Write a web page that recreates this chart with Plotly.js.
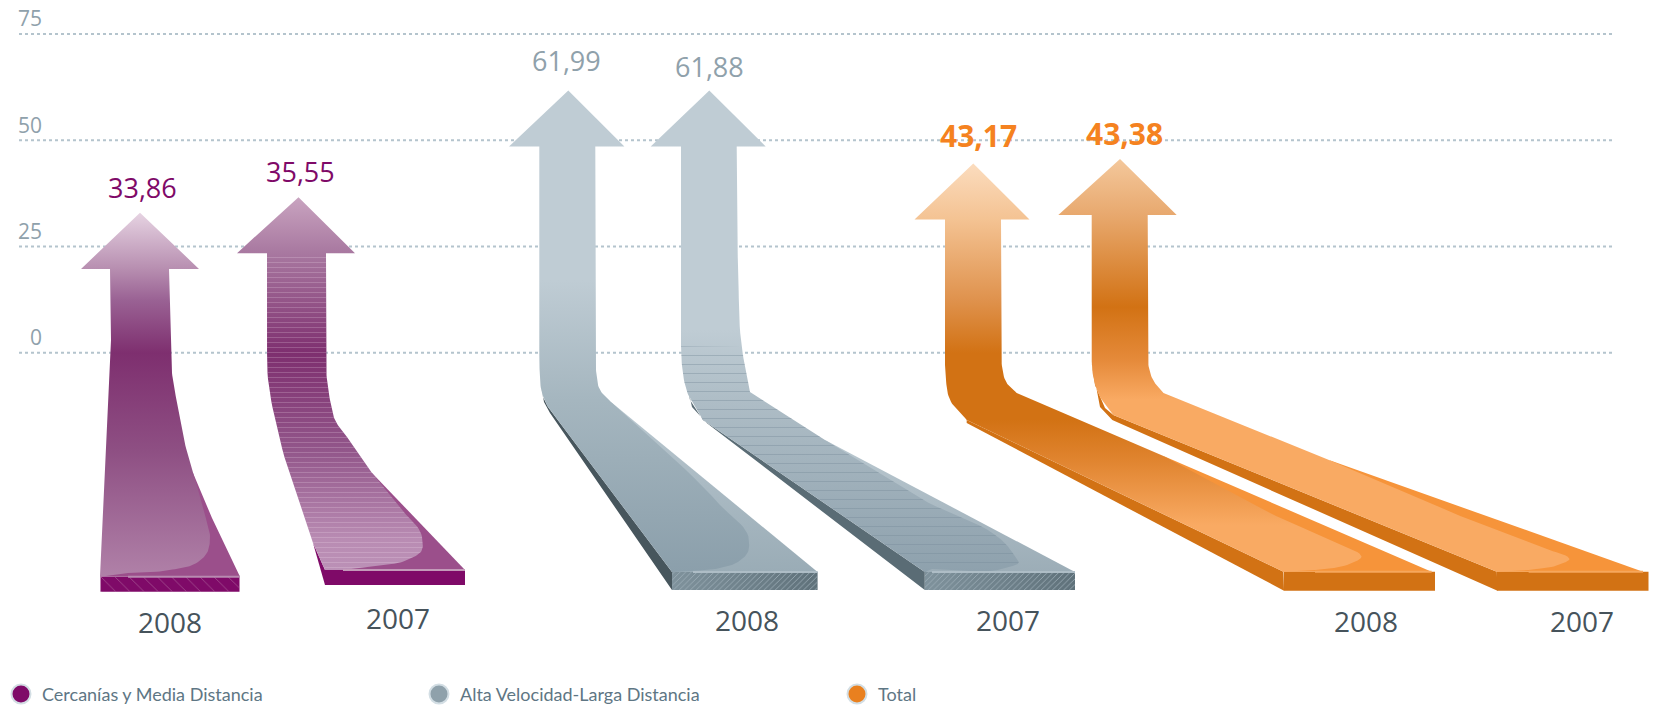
<!DOCTYPE html>
<html>
<head>
<meta charset="utf-8">
<script src="https://cdn.plot.ly/plotly-3.0.1.min.js"></script>
<style>html,body{margin:0;padding:0;background:#fff}#chart{width:1653px;height:707px}</style>
</head>
<body>
<div id="chart"></div>
<script>
// ---- Data ----
const categories = ['Cercanías y Media Distancia', 'Alta Velocidad-Larga Distancia', 'Total'];
const years = ['2008', '2007', '2008', '2007', '2008', '2007'];
const values = [33.86, 35.55, 61.99, 61.88, 43.17, 43.38];
const arrowTips = [32.9, 36.6, 61.7, 61.7, 44.5, 45.6];   // level the tip of each arrow reaches on the drawing
const yTicks = [0, 25, 50, 75];
const seriesColors = ['#7f0a68', '#8fa1ab', '#e9801f'];
const labelColors = ['#7f0a68', '#8fa1ab', '#f58220'];

// ---- Layout constants ----
const W = 1653, H = 707, ZERO = 352.7, UNIT = 4.25, GRID_X = [19, 1613];
const toY = p => (ZERO - p) / UNIT;
const toPx = v => ZERO - v * UNIT;

// ---- Ribbon geometry (decorative tail of each arrow, below the axis) ----
const arrows = [
 { cx:140, hc:140, head:59, sl:110, sr:169,
   right:[[170.7,340],[172,373],[177,403],[184,440],[193,473]], flatEdge:[[212,518]], end:[240,576.7],
   left:[[111,340]], leftEnd:[100,576.7],
   inner:[[205,515],[210,540],[207,553],[198,562],[170,570],[128,573]],
   side:null, front:[100.5,239.5,576.7,591.7],
   grad:[[213,'#e6d3e2'],[269,'#b78eb0'],[300,'#9a6294'],[353,'#7e2f6f'],[450,'#8e4f83'],[576.7,'#b081a8']],
   flat:'#9b4f8b', edge:'#b88ab0', frontColor:'#7f0a68', frontPat:{shape:'\\', size:10, solidity:.06, fgcolor:'#b06a9f'}, stripes:null },
 { cx:298.5, hc:296, head:59, sl:267, sr:326,
   right:[[326,345],[326,367],[330,400],[335,420],[347,437]], rightLine:[372,473], end:[465,570],
   left:[[267,345],[267.5,373],[280,440],[313,543]], leftEnd:[325,570],
   inner:[[400,508],[422,537],[422,550],[407,560],[375,566],[343,570]],
   side:[[313,543],[325,570],[325,585]], front:[325,465,570,585],
   grad:[[197,'#c9a4c0'],[253,'#a878a0'],[353,'#7e2f6f'],[450,'#92568a'],[540,'#b98cb3'],[570,'#bb90b6']],
   flat:'#9b4f8b', edge:'#c39ab9', frontColor:'#7f0a68', frontPat:null, stripes:{from:215, size:5, fg:'#f3e3ef', op:.3, solidity:.14} },
 { cx:568.3, hc:566.7, head:57.7, sl:539.3, sr:595.3,
   right:[[595.4,355],[596,370],[600,390],[611,402]], end:[817.6,572],
   left:[[539.3,355],[539.6,370],[542,393],[548,407],[560,423]],
   leftEnd:[672,572],
   inner:[[720,505],[749,540],[748,552],[738,562],[720,568],[693,571]],
   side:[[541,385],[543,397],[548,407],[672,572],[672,590],[550,413],[544,402]], front:[672,817.6,572,590],
   grad:[[90,'#bfccd4'],[280,'#bfccd4'],[400,'#a5b6bf'],[572,'#8b9fab']],
   flatGrad:['#9aacb6','#bac8d0'], edge:'#aebdc6', sideColor:'#47565d', frontColor:'#6f838d', frontGrad:['#7f929c','#5f717a'], frontPat:{shape:'/', size:4, solidity:.2, fgcolor:'#9fb0b9'}, stripes:null },
 { cx:709.3, hc:708.2, head:57.5, sl:681, sr:736.7,
   right:[[737,240],[738,263],[741.7,347],[750,392]], rightLine:[825,440], end:[1075,572],
   left:[[681,345],[681.5,360],[687.5,393],[703,420]],
   leftEnd:[924.8,572],
   inner:[[920,498],[1012.8,553],[1018.6,563],[1009,567],[932,569]],
   side:[[687,385],[690,400],[703,420],[924.8,572],[924.8,590],[706.7,423],[692,407]], front:[924.8,1075,572,590],
   grad:[[90,'#bfccd4'],[330,'#bfccd4'],[400,'#aebdc6'],[572,'#8ea1ad']],
   flatGrad:['#9cadb7','#bac8d0'], edge:'#aebdc6', sideColor:'#5a6c75', frontColor:'#6f838d', frontGrad:['#7f929c','#5f717a'], frontPat:{shape:'/', size:4, solidity:.2, fgcolor:'#9fb0b9'}, stripes:{from:346, size:9, fg:'#76899a', op:.45, solidity:.1} },
 { cx:973.3, hc:972, head:57.5, sl:945, sr:1001,
   right:[[1001,350],[1001.5,362],[1006.7,383],[1016.7,393]], rightLine:[1163.5,456], end:[1431.6,571.7],
   left:[[945,365],[945.5,373],[950,400],[966.7,420]],
   leftEnd:[1283.4,571.7],
   inner:[[1206,479],[1276,516],[1329,540],[1361,558],[1347,565],[1315,570]],
   side:[[966.7,420],[1283.4,571.7],[1284,590.7],[966.7,423]], front:[1284,1435,571.7,590.7],
   grad:[[163,'#fbdcbe'],[219,'#f4c393'],[300,'#df924d'],[353,'#d27214'],[420,'#d27214'],[460,'#e0842f'],[525,'#f9aa63'],[571,'#f9aa63']],
   flat:'#f6943a', edge:'#f6a75c', sideColor:'#d27214', frontColor:'#d27214', frontPat:null, stripes:null },
 { cx:1120, hc:1117.5, head:59.2, sl:1091.7, sr:1147.7,
   right:[[1147.7,350],[1148,362],[1153,380],[1163.5,393]], rightLine:[1329,460], end:[1643,571.7],
   left:[[1091.7,355],[1092,368],[1100,397],[1113.3,415]],
   leftEnd:[1496.8,571.7],
   inner:[[1453,513],[1540,547],[1569,560],[1558.5,565],[1528.6,570]],
   side:[[1091.7,363],[1095,385],[1105,408],[1113.3,415],[1496.8,571.7],[1497.5,590.7],[1112.3,420],[1100,407]], front:[1497,1648.5,571.7,590.7],
   grad:[[158,'#f4c89c'],[214,'#e8a96f'],[307,'#d27214'],[360,'#e58a3a'],[400,'#f9aa63'],[571,'#f9aa63']],
   flat:'#f6943a', edge:'#f6a75c', sideColor:'#d27214', frontColor:'#d27214', frontPat:null, stripes:null }
];

// Chord-length Hermite sampling for the smooth edges (no overshoot at long straight runs)
function smooth(pts) {
  if (pts.length < 3) return pts.slice();
  const dist = (a, b) => Math.hypot(b[0] - a[0], b[1] - a[1]) || 1e-6;
  const tang = pts.map((p, i) => {
    if (i === 0) return [0, 1].map(j => (pts[1][j] - p[j]) / dist(p, pts[1]));
    if (i === pts.length - 1) return [0, 1].map(j => (p[j] - pts[i - 1][j]) / dist(pts[i - 1], p));
    const d0 = dist(pts[i - 1], p), d1 = dist(p, pts[i + 1]);
    return [0, 1].map(j => ((p[j] - pts[i - 1][j]) / d0 * d1 + (pts[i + 1][j] - p[j]) / d1 * d0) / (d0 + d1));
  });
  const out = [];
  for (let i = 0; i < pts.length - 1; i++) {
    const d = dist(pts[i], pts[i + 1]);
    for (let k = 0; k < 12; k++) {
      const t = k / 12, t2 = t * t, t3 = t2 * t;
      out.push([0, 1].map(j =>
        (2 * t3 - 3 * t2 + 1) * pts[i][j] + (t3 - 2 * t2 + t) * d * tang[i][j] +
        (-2 * t3 + 3 * t2) * pts[i + 1][j] + (t3 - t2) * d * tang[i + 1][j]));
    }
  }
  out.push(pts[pts.length - 1]);
  return out;
}

function poly(pts, extra) {
  return Object.assign({
    x: pts.map(p => p[0]), y: pts.map(p => toY(p[1])),
    mode: 'lines', line: { width: 0 }, fill: 'toself', hoverinfo: 'skip',
    showlegend: false, cliponaxis: false
  }, extra);
}
function gradient(stops, top, bottom) {
  const span = bottom - top;
  const cs = stops.map(s => [Math.min(1, Math.max(0, (bottom - s[0]) / span)), s[1]]).reverse();
  cs[0][0] = 0; cs[cs.length - 1][0] = 1;
  return cs;
}

const traces = [];
arrows.forEach((a, i) => {
  const tip = toPx(arrowTips[i]), base = tip + 56;
  const [fx0, fx1, fy0, fy1] = a.front;
  const leftEnd = a.leftEnd;
  // straight shaft first, then the smooth bend, then the straight run of the ribbon
  const leftPts = [[a.sl, base], ...smooth(a.left), leftEnd];
  const rightPts = [[a.sr, base], ...smooth(a.right), ...(a.rightLine ? [a.rightLine] : [])];
  const innerStart = a.rightLine || a.right[a.right.length - 1];
  const innerPts = smooth([innerStart, ...a.inner]);

  if (a.side) traces.push(poly(a.side, { fillcolor: a.sideColor || a.frontColor }));
  const frontRect = [[fx0, fy0], [fx1, fy0], [fx1, fy1], [fx0, fy1], [fx0, fy0]];
  if (a.frontGrad) {
    traces.push(poly(frontRect, { fillgradient: { type: 'horizontal', colorscale: [[0, a.frontGrad[0]], [1, a.frontGrad[1]]] } }));
  } else {
    traces.push(poly(frontRect, { fillcolor: a.frontColor }));
  }
  if (a.frontPat) {
    traces.push(poly(frontRect, { fillcolor: 'rgba(0,0,0,0)', fillpattern: Object.assign({ bgcolor: 'rgba(0,0,0,0)' }, a.frontPat) }));
  }
  // flat corner of the ribbon
  const flatPts = [innerStart, ...(a.flatEdge || []), a.end, leftEnd, innerStart];
  traces.push(poly(flatPts, a.flatGrad
    ? { fillgradient: { type: 'vertical', colorscale: [[0, a.flatGrad[0]], [1, a.flatGrad[1]]] } }
    : { fillcolor: a.flat }));
  // gradient body: head, shaft and ribbon
  const bottom = leftEnd[1];
  const body = [[a.cx, tip], [a.hc + a.head, base], ...rightPts.slice(0, -1), ...innerPts, leftEnd, ...leftPts.slice().reverse(), [a.hc - a.head, base], [a.cx, tip]];
  traces.push(poly(body, {
    fillgradient: { type: 'vertical', start: toY(bottom), stop: toY(tip), colorscale: gradient(a.grad, tip, bottom) }
  }));
  if (a.stripes) {
    const s = a.stripes;
    const part = body.filter(p => p[1] >= s.from);
    part.push(part[0]);
    traces.push(poly(part, {
      fillcolor: 'rgba(0,0,0,0)',
      fillpattern: { shape: '-', size: s.size, solidity: s.solidity, fgcolor: s.fg, fgopacity: s.op, bgcolor: 'rgba(0,0,0,0)' }
    }));
  }
  // highlight along the front edge of the ribbon
  traces.push({ x: [innerPts[innerPts.length - 1][0], a.end[0]], y: [toY(fy0), toY(fy0)], mode: 'lines',
    line: { color: a.edge, width: 2 }, hoverinfo: 'skip', showlegend: false, cliponaxis: false });
});

// legend keys and names
const legendKeyX = [21, 439, 857];
const LEGEND_Y = 694;
categories.forEach((c, i) => traces.push({
  x: [legendKeyX[i]], y: [toY(LEGEND_Y)], name: c, mode: 'markers', hoverinfo: 'skip', showlegend: false, cliponaxis: false,
  marker: { color: seriesColors[i], size: 19, line: { color: '#d3dee4', width: 2 } }
}));

// printed value and year labels
const valuePos = [[142, 187], [300, 171], [566.7, 60.7], [709.3, 66.7], [978, 135], [1124, 133]];
const yearPos = [[170, 621.7], [398, 617.7], [746.8, 620], [1008, 620], [1366, 620.7], [1582, 620.7]];
const fmt = v => v.toFixed(2).replace('.', ',');
const annotations = [];
values.forEach((v, i) => {
  const g = Math.floor(i / 2);
  annotations.push({ x: valuePos[i][0], y: toY(valuePos[i][1]), text: fmt(v), showarrow: false,
    xanchor: 'center', yanchor: 'middle',
    font: { family: '"Open Sans", sans-serif', size: g === 2 ? 30 : 27, weight: g === 2 ? 700 : 500, color: labelColors[g] } });
  annotations.push({ x: yearPos[i][0], y: toY(yearPos[i][1]), text: years[i], showarrow: false,
    xanchor: 'center', yanchor: 'middle',
    font: { family: '"Open Sans", sans-serif', size: 28, weight: 500, color: '#46535b' } });
});
categories.forEach((c, i) => annotations.push({
  x: legendKeyX[i] + 19, y: toY(LEGEND_Y), text: c, showarrow: false, xanchor: 'left', yanchor: 'middle',
  font: { family: 'Lato, sans-serif', size: 18, color: '#5e7684' }
}));

const layout = {
  width: W, height: H, showlegend: false,
  margin: { l: GRID_X[0], r: 0, t: 0, b: 0, pad: 0 },
  paper_bgcolor: '#fff', plot_bgcolor: '#fff',
  xaxis: { range: [GRID_X[0], W], visible: false, fixedrange: true },
  yaxis: {
    range: [toY(H), toY(0)], tickmode: 'array', tickvals: yTicks, ticktext: yTicks.map(String),
    showgrid: false, zeroline: false, showline: false,
    ticks: '', ticklabelstandoff: -24, ticklabelshift: -15, automargin: false, fixedrange: true,
    tickfont: { family: '"Open Sans", sans-serif', size: 21, color: '#8fa1ab' }
  },
  shapes: yTicks.map(t => ({ type: 'line', layer: 'below', xref: 'x', yref: 'y', x0: GRID_X[0], x1: GRID_X[1], y0: t, y1: t,
    line: { color: '#b4c4cd', width: 2, dash: 'dot' } })),
  annotations
};

Plotly.newPlot('chart', traces, layout, { displayModeBar: false, staticPlot: true });
</script>
</body>
</html>
